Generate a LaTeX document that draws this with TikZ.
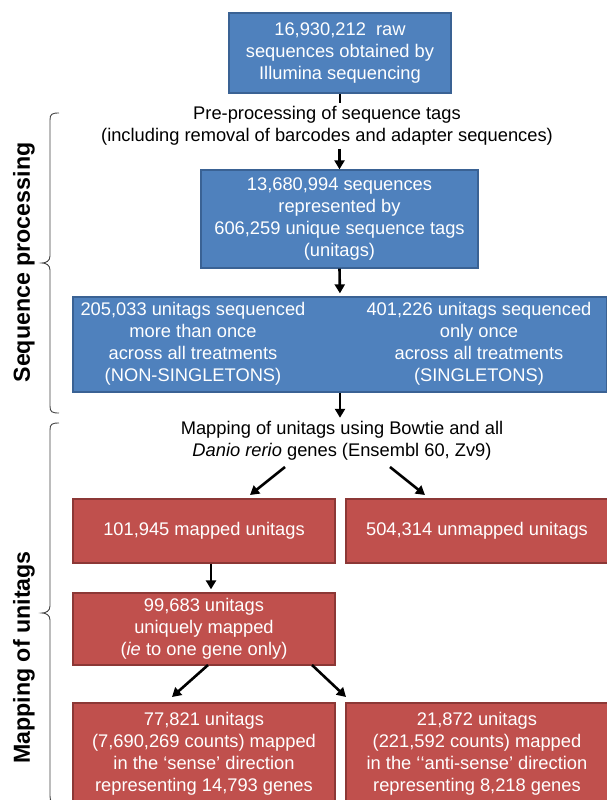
\documentclass[tikz,border=0pt]{standalone}
\usepackage{fontspec}
\setmainfont{Liberation Sans}
\usetikzlibrary{arrows.meta,calc}
\definecolor{bluef}{HTML}{4F81BD}
\definecolor{blued}{HTML}{3A6294}
\definecolor{redf}{HTML}{C0504D}
\definecolor{redd}{HTML}{8C3836}
\definecolor{bracec}{HTML}{404040}
\tikzset{
  boxtext/.style={font=\fontsize{18.3}{22}\selectfont, align=center},
  bluebox/.style={boxtext, draw=blued, fill=bluef, line width=1.3pt, text=white, inner sep=0pt},
  redbox/.style={boxtext, draw=redd, fill=redf, line width=1.3pt, text=white, inner sep=0pt},
  wtext/.style={boxtext, text=white, inner sep=0pt},
  plaintext/.style={boxtext, text=black, inner sep=3pt},
  arr/.style={line width=2.6pt, -{Triangle[length=9pt,width=10pt]}},
  stub/.style={line width=2.6pt},
  bracestyle/.style={draw=bracec, line width=0.9pt},
  sidelabel/.style={font=\fontsize{23.2}{28}\selectfont\bfseries, rotate=90, inner sep=0pt}
}
\begin{document}
\begin{tikzpicture}[x=1pt,y=-1pt]
\useasboundingbox (0,0) rectangle (606,800);

% boxes
\node[bluebox, minimum width=222pt, minimum height=80pt] (b1) at (340,53)
  {16,930,212\ \ raw\\sequences obtained by\\Illumina sequencing};
\node[plaintext] (pre) at (327,126)
  {Pre-processing of sequence tags\\(including removal of barcodes and adapter sequences)};
\node[bluebox, minimum width=277pt, minimum height=98pt] (b2) at (339.5,219)
  {13,680,994 sequences\\represented by\\606,259 unique sequence tags\\(unitags)};
\node[bluebox, minimum width=534pt, minimum height=95pt] (b3) at (340,344.5) {};
\node[wtext] (b3l) at (193,344)
  {205,033 unitags sequenced\\more than once\\across all treatments\\(NON-SINGLETONS)};
\node[wtext] (b3r) at (479,344)
  {401,226 unitags sequenced\\only once\\across all treatments\\(SINGLETONS)};
\node[plaintext] (map) at (342,440.5)
  {Mapping of unitags using Bowtie and all\\\textit{Danio rerio} genes (Ensembl 60, Zv9)};
\node[redbox, minimum width=262pt, minimum height=64pt] (b4l) at (204,531) {101,945 mapped unitags};
\node[redbox, minimum width=262pt, minimum height=64pt] (b4r) at (477,531) {504,314 unmapped unitags};
\node[redbox, minimum width=262pt, minimum height=72pt] (b5) at (204,629)
  {99,683 unitags\\uniquely mapped\\(\textit{ie} to one gene only)};
\node[redbox, minimum width=262pt, minimum height=102pt] (b6l) at (204,754)
  {77,821 unitags\\(7,690,269 counts) mapped\\in the ‘sense’ direction\\representing 14,793 genes};
\node[redbox, minimum width=262pt, minimum height=102pt] (b6r) at (477,754)
  {21,872 unitags\\(221,592 counts) mapped\\in the \mbox{‘}‘anti-sense’ direction\\representing 8,218 genes};

% connectors
\draw[stub] (b1.south) -- (b1.south |- pre.north);
\draw[arr] (pre.south -| b2.north) -- (b2.north);
\draw[arr, shorten >=3pt] (b2.south) -- (b3.north);
\draw[arr] (b3.south) -- (b3.south |- map.north);
\coordinate (m1) at (285,467);
\coordinate (m2) at (250,495);
\coordinate (m3) at (390,467);
\coordinate (m4) at (425,495);
\draw[arr] (m1) -- (m2);
\draw[arr] (m3) -- (m4);
\draw[arr, shorten >=3pt] ([xshift=7pt]b4l.south) -- ([xshift=7pt]b5.north);
\coordinate (u1) at (208,665);
\coordinate (u2) at (172,697);
\coordinate (u3) at (312,665);
\coordinate (u4) at (346,697);
\draw[arr] (u1) -- (u2);
\draw[arr] (u3) -- (u4);

% braces
\draw[bracestyle] (59,113) .. controls (52,113) and (50,114) .. (50,120) -- (50,256)
  .. controls (50,261) and (46,263) .. (42,263) .. controls (46,263) and (50,265) .. (50,270)
  -- (50,406) .. controls (50,412) and (52,413) .. (59,413);
\draw[bracestyle] (59,423) .. controls (52,423) and (50,424) .. (50,430) -- (50,606)
  .. controls (50,611) and (46,613) .. (42,613) .. controls (46,613) and (50,615) .. (50,620)
  -- (50,796) .. controls (50,802) and (52,803) .. (59,803);

% side labels
\node[sidelabel] (lab1) at (24,262.5) {Sequence processing};
\node[sidelabel] (lab2) at (24,657.5) {Mapping of unitags};
\end{tikzpicture}
\end{document}
